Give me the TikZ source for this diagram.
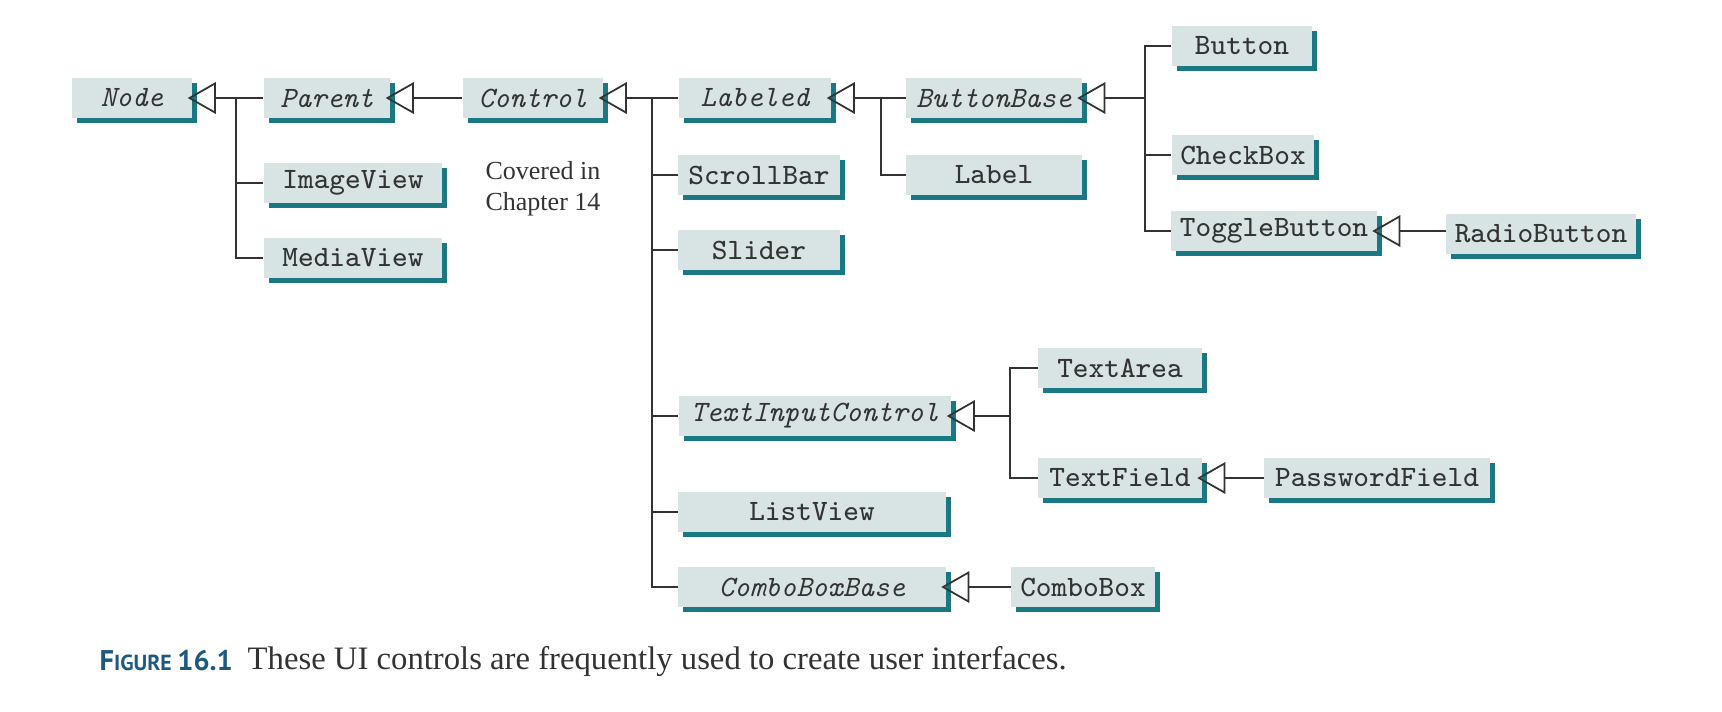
\documentclass[tikz,border=0pt]{standalone}
\usepackage{fontspec}
\usepackage{xcolor}
\setmainfont{Liberation Serif}
\newfontfamily\figfont{PT Sans}
\usetikzlibrary{arrows.meta,shadows}

\definecolor{clsface}{HTML}{D8E3E3}
\definecolor{clsshade}{HTML}{1A7883}
\definecolor{figblue}{HTML}{1D5A7E}
\definecolor{inkgray}{HTML}{333333}

\newcommand\clsfont{\fontsize{8.4}{10}\selectfont\ttfamily}

\tikzset{
  cls/.style={fill=clsface, text=inkgray, inner sep=0pt, minimum height=0.4cm,
    font=\clsfont, drop shadow={shadow xshift=0.05cm, shadow yshift=-0.05cm,
    fill=clsshade, opacity=1}},
  abscls/.style={cls, font=\clsfont\itshape},
  isa/.style={-{Triangle[open, length=8pt, width=9pt]}, shorten >=-0.05cm,
    line width=.5pt, draw=inkgray},
  tree/.style={line width=.5pt, draw=inkgray}
}

\begin{document}
\begin{tikzpicture}[x=0.01cm, y=-0.01cm]
      \useasboundingbox (0, 0) rectangle (1722, 711);
      % top row
      \node [abscls, minimum width=1.20cm] (node) at (132, 98) {Node};
      \node [abscls, minimum width=1.26cm] (parent) at (327, 98) {Parent};
      \node [abscls, minimum width=1.40cm] (control) at (533, 98) {Control};
      \node [abscls, minimum width=1.52cm] (labeled) at (755, 98) {Labeled};
      \node [abscls, minimum width=1.75cm] (buttonbase) at (994, 98) {ButtonBase};
      % children of Parent
      \node [cls, minimum width=1.78cm] (imageview) at (353, 183) {ImageView};
      \node [cls, minimum width=1.78cm] (mediaview) at (353, 258) {MediaView};
      \node [inkgray, align=left, font=\fontsize{7.4}{8.8}\selectfont] (covered) at (543, 189) {Covered in\\Chapter 14};
      % children of Control
      \node [cls, minimum width=1.61cm] (scrollbar) at (759, 175) {ScrollBar};
      \node [cls, minimum width=1.61cm] (slider) at (759, 250) {Slider};
      \node [abscls, minimum width=2.72cm] (textinput) at (815, 416) {TextInputControl};
      \node [cls, minimum width=2.67cm] (listview) at (812, 512) {ListView};
      \node [abscls, minimum width=2.67cm] (comboboxbase) at (812, 587) {ComboBoxBase};
      % children of Labeled and ButtonBase
      \node [cls, minimum width=1.75cm] (label) at (994, 175) {Label};
      \node [cls, minimum width=1.40cm] (button) at (1242, 46) {Button};
      \node [cls, minimum width=1.42cm] (checkbox) at (1243, 155) {CheckBox};
      \node [cls, minimum width=2.05cm] (togglebtn) at (1274, 231) {ToggleButton};
      \node [cls, minimum width=1.89cm] (radiobtn) at (1541, 234) {RadioButton};
      % text controls
      \node [cls, minimum width=1.63cm] (textarea) at (1120, 368) {TextArea};
      \node [cls, minimum width=1.63cm] (textfield) at (1120, 478) {TextField};
      \node [cls, minimum width=2.25cm] (password) at (1377, 478) {PasswordField};
      \node [cls, minimum width=1.43cm] (combobox) at (1083, 587) {ComboBox};
      % junctions
      \coordinate (jn) at (236, 98);
      \coordinate (jc) at (652, 98);
      \coordinate (jl) at (881, 98);
      \coordinate (jb) at (1145, 98);
      \coordinate (jt) at (1010, 416);
      % inheritance
      \draw [isa] (parent.west) -- (node.east);
      \draw [tree] (imageview.west) -- (imageview.west -| jn);
      \draw [tree] (mediaview.west) -| (jn);
      \draw [isa] (control.west) -- (parent.east);
      \draw [isa] (labeled.west) -- (control.east);
      \draw [tree] (scrollbar.west) -- (scrollbar.west -| jc);
      \draw [tree] (slider.west) -- (slider.west -| jc);
      \draw [tree] (textinput.west) -- (textinput.west -| jc);
      \draw [tree] (listview.west) -- (listview.west -| jc);
      \draw [tree] (comboboxbase.west) -| (jc);
      \draw [isa] (buttonbase.west) -- (labeled.east);
      \draw [tree] (label.west) -| (jl);
      \draw [isa] (jb) -- (buttonbase.east);
      \draw [tree] (button.west) -| (jb |- togglebtn.west) -- (togglebtn.west);
      \draw [tree] (checkbox.west) -- (checkbox.west -| jb);
      \draw [isa] (radiobtn.west |- togglebtn.east) -- (togglebtn.east);
      \draw [isa] (jt) -- (textinput.east);
      \draw [tree] (textarea.west) -| (jt |- textfield.west) -- (textfield.west);
      \draw [isa] (password.west) -- (textfield.east);
      \draw [isa] (combobox.west) -- (comboboxbase.east);
      % caption
      \node [anchor=west, inner sep=0pt, text=figblue, font=\figfont\bfseries\fontsize{6.2}{8}\selectfont] (fignum) at (99, 661) {{\fontsize{8.1}{8}\selectfont F}IGURE {\fontsize{8.1}{8}\selectfont 16.1}};
      \node [anchor=west, inner sep=0pt, text=inkgray, font=\fontsize{9.3}{10}\selectfont] (figtext) at (247, 661) {These UI controls are frequently used to create user interfaces.};
    \end{tikzpicture}
\end{document}
